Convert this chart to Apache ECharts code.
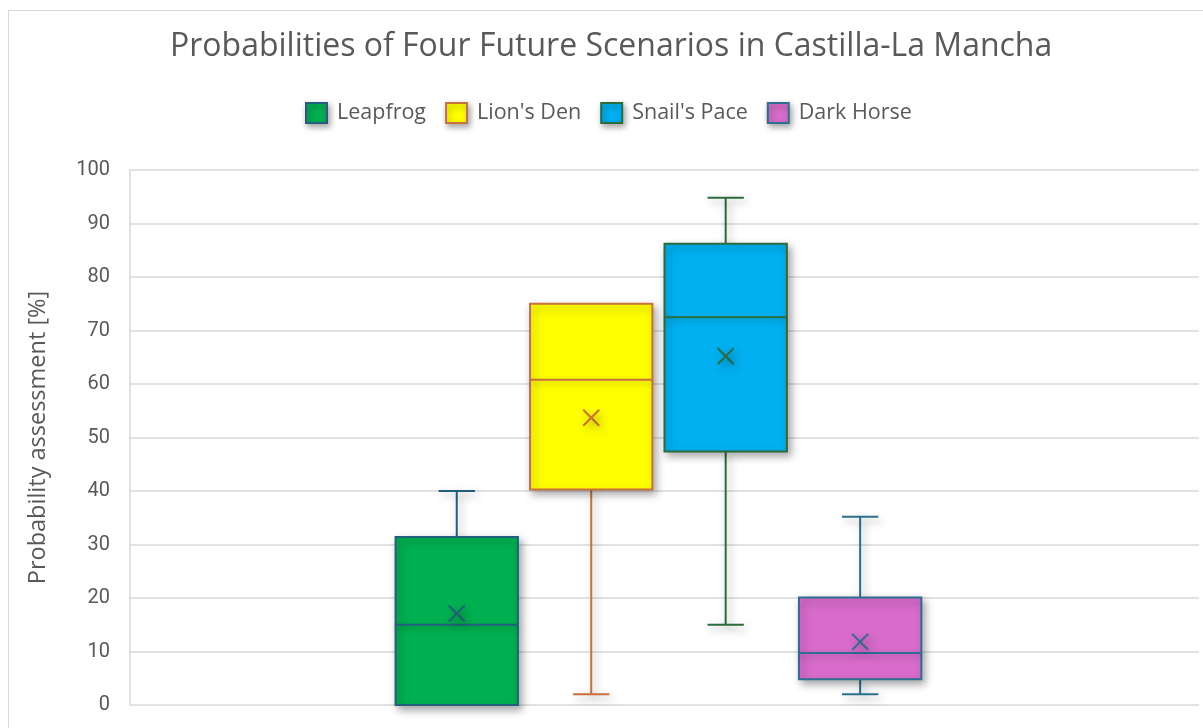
<!DOCTYPE html>
<html>
<head>
<meta charset="utf-8">
<script src="https://cdn.jsdelivr.net/npm/echarts@6/dist/echarts.min.js"></script>
<style>
html, body { margin: 0; padding: 0; background: #fff; }
#main { width: 1203px; height: 728px; }
#frame { position: absolute; left: 8px; top: 10px; width: 1300px; height: 800px; border: 1.5px solid #d9d9d9; pointer-events: none; }
</style>
</head>
<body>
<div id="main"></div>
<div id="frame"></div>
<script>
// five-number summaries + mean
const scenarios = ['Leapfrog', "Lion's Den", "Snail's Pace", 'Dark Horse']
const minValues = [0, 2, 15, 2]
const q1Values = [0, 40.3, 47.4, 4.8]
const medianValues = [15, 60.8, 72.5, 9.7]
const q3Values = [31.4, 75, 86.2, 20.1]
const maxValues = [40, 75, 94.8, 35.2]
const meanValues = [17.1, 53.7, 65.2, 11.8]
const yTicks = [0, 10, 20, 30, 40, 50, 60, 70, 80, 90, 100]

const fillColors = ['#00B050', '#FFFF00', '#00B0F0', '#D86BCB']
const lineColors = ['#245E7E', '#C9713C', '#2B6B3C', '#2C6F8E']
const textColor = '#595959'
const gridColor = '#d9d9d9'

const boxWidth = 0.91
const capWidth = 0.27

function renderBox (params, api) {
  const i = params.seriesIndex
  const x = api.value(0)
  const pMin = api.coord([x, api.value(1)])
  const pQ1 = api.coord([x, api.value(2)])
  const pMed = api.coord([x, api.value(3)])
  const pQ3 = api.coord([x, api.value(4)])
  const pMax = api.coord([x, api.value(5)])
  const pMean = api.coord([x, api.value(6)])
  const halfBox = api.size([boxWidth, 0])[0] / 2
  const halfCap = api.size([capWidth, 0])[0] / 2
  const cx = pMed[0]
  const stroke = lineColors[i]
  const shadow = { shadowBlur: 8, shadowOffsetX: 3, shadowOffsetY: 4, shadowColor: 'rgba(0,0,0,0.35)' }
  const line = (x1, y1, x2, y2) => ({
    type: 'line',
    shape: { x1, y1, x2, y2 },
    style: Object.assign({ stroke, lineWidth: 2 }, shadow)
  })
  const children = []
  if (pMax[1] < pQ3[1] - 1) {
    children.push(line(cx, pMax[1], cx, pQ3[1]))
    children.push(line(cx - halfCap, pMax[1], cx + halfCap, pMax[1]))
  }
  if (pMin[1] > pQ1[1] + 1) {
    children.push(line(cx, pQ1[1], cx, pMin[1]))
    children.push(line(cx - halfCap, pMin[1], cx + halfCap, pMin[1]))
  }
  children.push({
    type: 'rect',
    shape: { x: cx - halfBox, y: pQ3[1], width: halfBox * 2, height: pQ1[1] - pQ3[1] },
    style: Object.assign({ fill: fillColors[i], stroke, lineWidth: 2 }, shadow)
  })
  children.push({
    type: 'line',
    shape: { x1: cx - halfBox, y1: pMed[1], x2: cx + halfBox, y2: pMed[1] },
    style: { stroke, lineWidth: 2, shadowBlur: 6, shadowOffsetY: 3, shadowColor: 'rgba(0,0,0,0.25)' }
  })
  const m = 8
  children.push(line(pMean[0] - m, pMean[1] - m, pMean[0] + m, pMean[1] + m))
  children.push(line(pMean[0] - m, pMean[1] + m, pMean[0] + m, pMean[1] - m))
  return { type: 'group', children }
}

const chart = echarts.init(document.getElementById('main'))

const option = {
  backgroundColor: '#fff',
  textStyle: { fontFamily: 'Open Sans' },
  title: {
    text: 'Probabilities of Four Future Scenarios in Castilla-La Mancha',
    left: 165,
    top: 26,
    textStyle: { fontSize: 32, fontWeight: 'normal', color: textColor, fontFamily: 'Open Sans' }
  },
  legend: {
    top: 97,
    left: 300,
    icon: 'rect',
    itemWidth: 21,
    itemHeight: 20,
    itemGap: 19,
    textStyle: { fontSize: 21.5, color: textColor, fontFamily: 'Open Sans', padding: [0, 0, 0, 5] },
    data: scenarios.map((name, i) => ({
      name,
      itemStyle: {
        color: fillColors[i],
        borderColor: lineColors[i],
        borderWidth: 2,
        shadowBlur: 6,
        shadowOffsetX: 2,
        shadowOffsetY: 3,
        shadowColor: 'rgba(0,0,0,0.35)'
      }
    }))
  },
  grid: { left: 130, right: 4, top: 170, bottom: 23, outerBoundsMode: 'none' },
  xAxis: {
    type: 'value',
    min: -2.43,
    max: 5.52,
    show: false
  },
  yAxis: {
    type: 'value',
    min: yTicks[0],
    max: yTicks[yTicks.length - 1],
    interval: yTicks[1] - yTicks[0],
    name: 'Probability assessment [%]',
    nameLocation: 'middle',
    nameRotate: 90,
    nameGap: 80,
    nameTextStyle: { fontSize: 23.5, color: textColor, fontFamily: 'Open Sans' },
    axisLine: { show: true, onZero: false, lineStyle: { color: gridColor, width: 1.5 } },
    axisTick: { show: false },
    axisLabel: { fontSize: 20, color: textColor, margin: 20, fontFamily: 'Roboto' },
    splitLine: { lineStyle: { color: gridColor, width: 1.5 } }
  },
  series: scenarios.map((name, i) => ({
    name,
    type: 'custom',
    renderItem: renderBox,
    itemStyle: { color: fillColors[i], borderColor: lineColors[i] },
    encode: { x: 0, y: [1, 2, 3, 4, 5, 6] },
    data: [[i, minValues[i], q1Values[i], medianValues[i], q3Values[i], maxValues[i], meanValues[i]]]
  }))
}

chart.setOption(option)
</script>
</body>
</html>
